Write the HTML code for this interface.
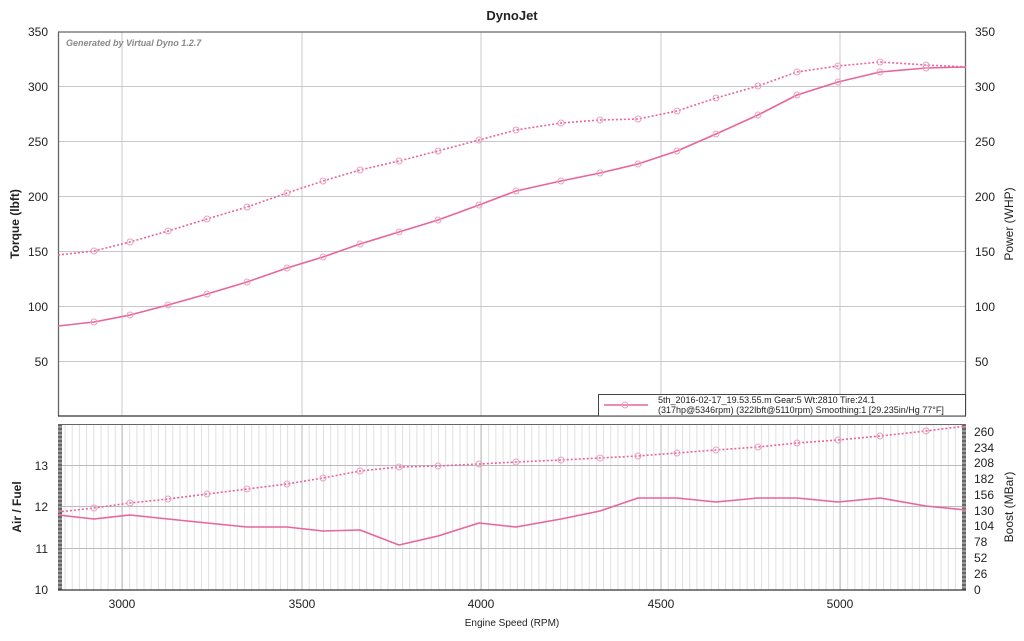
<!DOCTYPE html>
<html><head><meta charset="utf-8"><style>
html,body{margin:0;padding:0;background:#fff;}
svg text{font-family:"Liberation Sans",Arial,sans-serif;}
</style></head><body>
<svg width="1024" height="636" viewBox="0 0 1024 636" xmlns="http://www.w3.org/2000/svg">
<defs>
<pattern id="minor" x="122" y="0" width="7.18" height="10" patternUnits="userSpaceOnUse">
<line x1="0.5" y1="0" x2="0.5" y2="10" stroke="#e0e0e0" stroke-width="1"/>
</pattern>
<pattern id="hatch" x="0" y="424" width="4" height="4" patternUnits="userSpaceOnUse">
<rect width="4" height="4" fill="#999"/><rect width="4" height="2" fill="#666"/>
</pattern>
</defs>
<rect width="1024" height="636" fill="#fff"/>
<text x="512" y="20" font-size="13" font-weight="bold" text-anchor="middle" fill="#222">DynoJet</text>

<g stroke="#c8c8c8" stroke-width="1">
<line x1="122" y1="32" x2="122" y2="416"/><line x1="302" y1="32" x2="302" y2="416"/>
<line x1="481" y1="32" x2="481" y2="416"/><line x1="661" y1="32" x2="661" y2="416"/>
<line x1="840" y1="32" x2="840" y2="416"/>
<line x1="58" y1="86.5" x2="966" y2="86.5"/><line x1="58" y1="141.5" x2="966" y2="141.5"/>
<line x1="58" y1="196.5" x2="966" y2="196.5"/><line x1="58" y1="251.5" x2="966" y2="251.5"/>
<line x1="58" y1="306.5" x2="966" y2="306.5"/><line x1="58" y1="361.5" x2="966" y2="361.5"/>
</g>
<g stroke="#666" stroke-width="1.3" fill="none">
<line x1="58" y1="32" x2="966" y2="32"/>
<line x1="58.5" y1="32" x2="58.5" y2="416"/>
<line x1="965.5" y1="32" x2="965.5" y2="416"/>
<line x1="58" y1="416" x2="966" y2="416" stroke="#333"/>
</g>
<text x="66" y="46" font-size="9" font-style="italic" font-weight="bold" fill="#888">Generated by Virtual Dyno 1.2.7</text>
<g font-size="12" fill="#222" text-anchor="end">
<text x="48" y="36">350</text><text x="48" y="91">300</text><text x="48" y="146">250</text>
<text x="48" y="201">200</text><text x="48" y="256">150</text><text x="48" y="311">100</text><text x="48" y="366">50</text>
</g>
<g font-size="12" fill="#222" text-anchor="start">
<text x="975" y="36">350</text><text x="975" y="91">300</text><text x="975" y="146">250</text>
<text x="975" y="201">200</text><text x="975" y="256">150</text><text x="975" y="311">100</text><text x="975" y="366">50</text>
</g>
<text transform="translate(19,224) rotate(-90)" font-size="12" font-weight="bold" text-anchor="middle" fill="#222">Torque (lbft)</text>
<text transform="translate(1013,224) rotate(-90)" font-size="12" text-anchor="middle" fill="#222">Power (WHP)</text>

<g fill="none" stroke="#e8649c" stroke-width="1.6" stroke-linejoin="round">
<polyline stroke-dasharray="2,2" points="58,255 94,251 130,242 168,231 207,219 247,207 287,193 323,181 360,170 399,161 438,151 479,140 516,130 561,123 600,120 638,119 677,111 716,98 758,86 797,72 838,66 880,62 926,65 966,67"/>
<polyline points="58,326 94,322 130,315 168,305 207,294 247,282 287,268 323,257 360,244 399,232 438,220 479,205 516,191 561,181 600,173 638,164 677,151 716,134 758,115 797,95 838,82 880,72 926,68 966,67"/>
</g>
<g fill="none" stroke="#eda0c0" stroke-width="1">
<circle cx="94" cy="251" r="3"/><circle cx="130" cy="242" r="3"/><circle cx="168" cy="231" r="3"/><circle cx="207" cy="219" r="3"/><circle cx="247" cy="207" r="3"/><circle cx="287" cy="193" r="3"/><circle cx="323" cy="181" r="3"/><circle cx="360" cy="170" r="3"/><circle cx="399" cy="161" r="3"/><circle cx="438" cy="151" r="3"/><circle cx="479" cy="140" r="3"/><circle cx="516" cy="130" r="3"/><circle cx="561" cy="123" r="3"/><circle cx="600" cy="120" r="3"/><circle cx="638" cy="119" r="3"/><circle cx="677" cy="111" r="3"/><circle cx="716" cy="98" r="3"/><circle cx="758" cy="86" r="3"/><circle cx="797" cy="72" r="3"/><circle cx="838" cy="66" r="3"/><circle cx="880" cy="62" r="3"/><circle cx="926" cy="65" r="3"/>
<circle cx="94" cy="322" r="3"/><circle cx="130" cy="315" r="3"/><circle cx="168" cy="305" r="3"/><circle cx="207" cy="294" r="3"/><circle cx="247" cy="282" r="3"/><circle cx="287" cy="268" r="3"/><circle cx="323" cy="257" r="3"/><circle cx="360" cy="244" r="3"/><circle cx="399" cy="232" r="3"/><circle cx="438" cy="220" r="3"/><circle cx="479" cy="205" r="3"/><circle cx="516" cy="191" r="3"/><circle cx="561" cy="181" r="3"/><circle cx="600" cy="173" r="3"/><circle cx="638" cy="164" r="3"/><circle cx="677" cy="151" r="3"/><circle cx="716" cy="134" r="3"/><circle cx="758" cy="115" r="3"/><circle cx="797" cy="95" r="3"/><circle cx="838" cy="82" r="3"/><circle cx="880" cy="72" r="3"/><circle cx="926" cy="68" r="3"/>
</g>

<rect x="598.5" y="394.5" width="367" height="21.5" fill="#fff" stroke="#444" stroke-width="1"/>
<line x1="604" y1="405" x2="648" y2="405" stroke="#e8649c" stroke-width="1.6"/>
<circle cx="625" cy="405" r="3" fill="none" stroke="#eda0c0"/>
<text x="658" y="403" font-size="9" fill="#222">5th_2016-02-17_19.53.55.m Gear:5 Wt:2810 Tire:24.1</text>
<text x="658" y="413" font-size="9" fill="#222">(317hp@5346rpm) (322lbft@5110rpm) Smoothing:1 [29.235in/Hg 77°F]</text>

<rect x="58" y="424" width="908" height="166" fill="url(#minor)"/>
<g stroke="#bcbcbc" stroke-width="1">
<line x1="122" y1="424" x2="122" y2="590"/><line x1="302" y1="424" x2="302" y2="590"/>
<line x1="481" y1="424" x2="481" y2="590"/><line x1="661" y1="424" x2="661" y2="590"/>
<line x1="840" y1="424" x2="840" y2="590"/>
<line x1="58" y1="465.5" x2="966" y2="465.5"/><line x1="58" y1="506.5" x2="966" y2="506.5"/>
<line x1="58" y1="548.5" x2="966" y2="548.5"/>
</g>
<rect x="58" y="424" width="4" height="166" fill="url(#hatch)"/>
<rect x="962" y="424" width="4" height="166" fill="url(#hatch)"/>
<line x1="58" y1="424.5" x2="966" y2="424.5" stroke="#666"/>
<line x1="58" y1="590" x2="966" y2="590" stroke="#333" stroke-width="1.3"/>
<g font-size="12" fill="#222" text-anchor="end">
<text x="48" y="470">13</text><text x="48" y="511">12</text><text x="48" y="553">11</text><text x="48" y="594">10</text>
</g>
<g font-size="12" fill="#222" text-anchor="start">
<text x="974" y="436">260</text><text x="974" y="452">234</text><text x="974" y="467">208</text><text x="974" y="483">182</text><text x="974" y="499">156</text><text x="974" y="515">130</text><text x="974" y="530">104</text><text x="974" y="546">78</text><text x="974" y="562">52</text><text x="974" y="578">26</text><text x="974" y="594">0</text>
</g>
<text transform="translate(21,507) rotate(-90)" font-size="12" font-weight="bold" text-anchor="middle" fill="#222">Air / Fuel</text>
<text transform="translate(1013,507) rotate(-90)" font-size="12" text-anchor="middle" fill="#222">Boost (MBar)</text>
<g font-size="12" fill="#222" text-anchor="middle">
<text x="122" y="608">3000</text><text x="302" y="608">3500</text><text x="481" y="608">4000</text><text x="661" y="608">4500</text><text x="840" y="608">5000</text>
</g>
<text x="512" y="626" font-size="10" text-anchor="middle" fill="#222">Engine Speed (RPM)</text>

<g fill="none" stroke="#e8649c" stroke-width="1.6" stroke-linejoin="round">
<polyline stroke-dasharray="2,2" points="58,512 94,508 130,503 168,499 207,494 247,489 287,484 323,478 360,471 399,467 438,466 479,464 516,462 561,460 600,458 638,456 677,453 716,450 758,447 797,443 838,440 880,436 926,431 966,426"/>
<polyline points="58,515 94,519 130,515 168,519 207,523 247,527 287,527 323,531 360,530 399,545 438,536 479,523 516,527 561,519 600,511 638,498 677,498 716,502 758,498 797,498 838,502 880,498 926,506 966,510"/>
</g>
<g fill="none" stroke="#eda0c0" stroke-width="1">
<circle cx="94" cy="508" r="3"/><circle cx="130" cy="503" r="3"/><circle cx="168" cy="499" r="3"/><circle cx="207" cy="494" r="3"/><circle cx="247" cy="489" r="3"/><circle cx="287" cy="484" r="3"/><circle cx="323" cy="478" r="3"/><circle cx="360" cy="471" r="3"/><circle cx="399" cy="467" r="3"/><circle cx="438" cy="466" r="3"/><circle cx="479" cy="464" r="3"/><circle cx="516" cy="462" r="3"/><circle cx="561" cy="460" r="3"/><circle cx="600" cy="458" r="3"/><circle cx="638" cy="456" r="3"/><circle cx="677" cy="453" r="3"/><circle cx="716" cy="450" r="3"/><circle cx="758" cy="447" r="3"/><circle cx="797" cy="443" r="3"/><circle cx="838" cy="440" r="3"/><circle cx="880" cy="436" r="3"/><circle cx="926" cy="431" r="3"/>
</g>
</svg>
</body></html>
